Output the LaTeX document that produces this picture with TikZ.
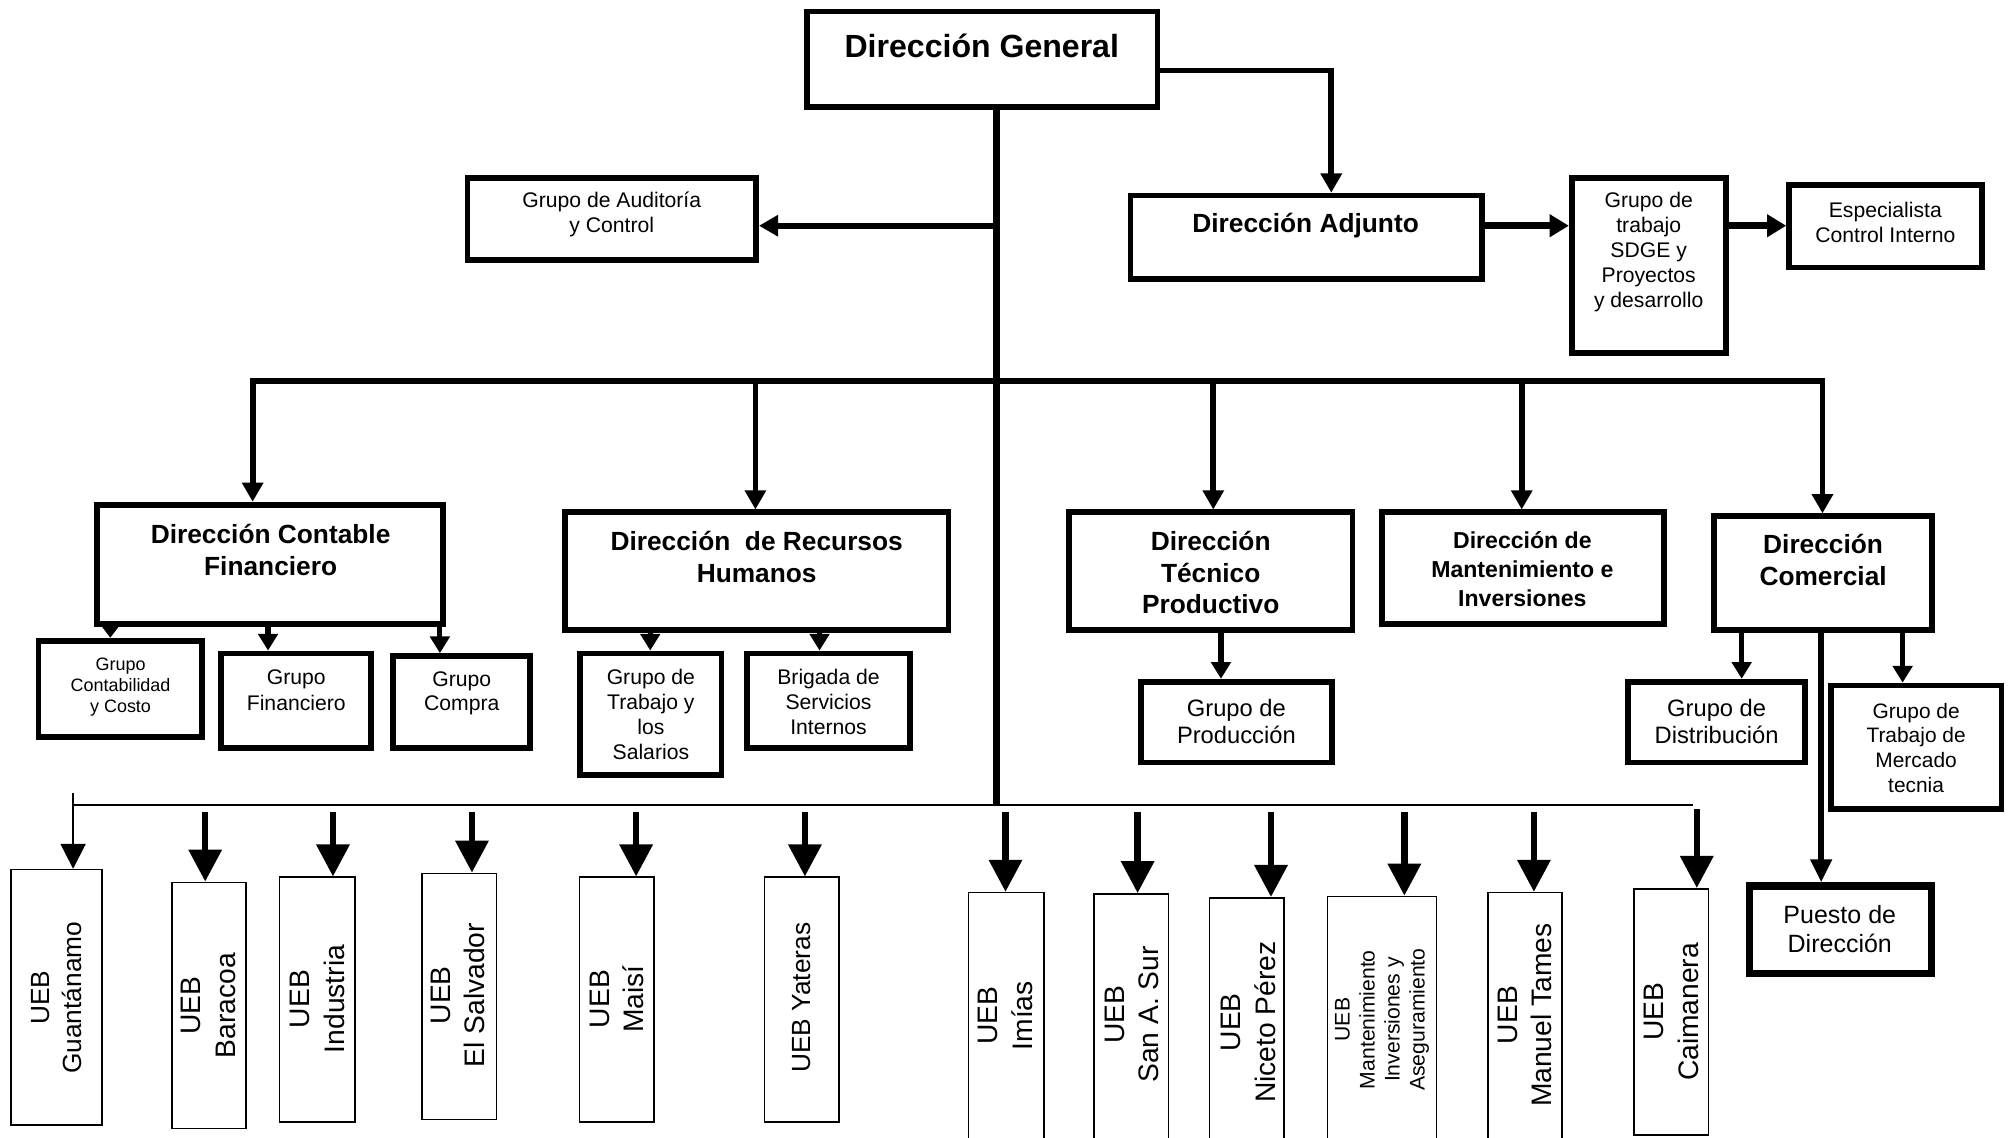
\documentclass[tikz,border=0pt]{standalone}
\usepackage{fontspec}
\setmainfont{Liberation Sans}
\usetikzlibrary{arrows.meta,fit}
\begin{document}
\begin{tikzpicture}[x=1pt,y=-1pt,
  box/.style={draw, line width=4.5pt, inner sep=0pt},
  ueb/.style={draw, line width=1.2pt, inner sep=0pt},
  bt/.style={align=center, inner sep=0pt, font=\bfseries\fontsize{20.5}{25}\selectfont},
  nt/.style={align=center, inner sep=0pt, font=\fontsize{16.5}{19.5}\selectfont},
  vt/.style={align=center, inner sep=0pt, rotate=90, font=\fontsize{22}{27}\selectfont},
  ln/.style={line width=5pt},
  arrM/.style={line width=4.5pt, -{Triangle[length=15pt,width=16pt]}},
  arrH/.style={line width=5.5pt, -{Triangle[length=15pt,width=17pt]}},
  arrS/.style={line width=4pt, -{Triangle[length=13pt,width=15pt]}},
  arrB/.style={line width=5pt, -{Triangle[length=25pt,width=25pt]}, shorten <=5pt},
  arrT/.style={line width=1.6pt, -{Triangle[length=19.5pt,width=19.5pt]}}
]
\useasboundingbox (0,0) rectangle (1568,887);
\clip (0,0) rectangle (1568,887);

% ---------- boxes ----------
\node[box, fit={(629,9) (902.5,83.5)}] (dg) {};
\node[box, fit={(364.5,139) (589.5,202.5)}] (aud) {};
\node[box, fit={(881.5,152.5) (1155.5,217.5)}] (adj) {};
\node[box, fit={(1225.5,139) (1345.5,275.5)}] (gt) {};
\node[box, fit={(1395,144) (1545.5,208.5)}] (esp) {};
\node[box, fit={(75.5,393.5) (345.5,486.5)}] (dcf) {};
\node[box, fit={(440.5,399.5) (739.5,491.5)}] (drh) {};
\node[box, fit={(833.5,399.5) (1054.5,491.5)}] (dtp) {};
\node[box, fit={(1077.5,399.5) (1297.5,486.5)}] (dmi) {};
\node[box, fit={(1336.5,402.5) (1506.5,491.5)}] (dc) {};
\node[box, fit={(30,499.5) (157.5,574.5)}] (gcc) {};
\node[box, fit={(172.5,509.5) (289.5,583.5)}] (gf) {};
\node[box, fit={(306.5,511.5) (413.5,583.5)}] (gc) {};
\node[box, fit={(452.5,509.5) (562.5,604.5)}] (gts) {};
\node[box, fit={(582.5,509.5) (709.5,583.5)}] (bsi) {};
\node[box, fit={(889.5,531.5) (1038.5,594.5)}] (gp) {};
\node[box, fit={(1269.5,531.5) (1407.5,594.5)}] (gd) {};
\node[box, fit={(1427.5,534.5) (1560.5,630.5)}] (gm) {};
\node[box, line width=6pt, fit={(1364,691) (1506,759)}] (pd) {};

% ---------- texts ----------
\node[bt, font=\bfseries\fontsize{25}{30}\selectfont] (dgt) at (765.5,36) {Dirección General};
\node[nt] (audt) at (477,167.5) {Grupo de Auditoría\\y Control};
\node[bt] (adjt) at (1018,175.5) {Dirección Adjunto};
\node[nt, font=\fontsize{16.5}{19.3}\selectfont] (gtt) at (1285.5,196.5) {Grupo de\\trabajo\\SDGE y\\Proyectos\\y desarrollo};
\node[nt, font=\fontsize{16.5}{19}\selectfont] (espt) at (1470,173.5) {Especialista\\Control Interno};
\node[bt] (dcft) at (211,428.5) {Dirección Contable\\Financiero};
\node[bt] (drht) at (590,434.5) {Dirección\ \ de Recursos\\Humanos};
\node[bt, font=\bfseries\fontsize{20.5}{24.5}\selectfont] (dtpt) at (944,446.5) {Dirección\\Técnico\\Productivo};
\node[bt, font=\bfseries\fontsize{18}{22.5}\selectfont] (dmit) at (1187,443.5) {Dirección de\\Mantenimiento e\\Inversiones};
\node[bt] (dct) at (1421.5,436.5) {Dirección\\Comercial};
\node[nt, font=\fontsize{14}{16.5}\selectfont] (gcct) at (94,535.5) {Grupo\\Contabilidad\\y Costo};
\node[nt, font=\fontsize{16.5}{20}\selectfont] (gft) at (231,538) {Grupo\\Financiero};
\node[nt, font=\fontsize{16.5}{19}\selectfont] (gct) at (360,540.5) {Grupo\\Compra};
\node[nt, font=\fontsize{16.5}{19.3}\selectfont] (gtst) at (507.5,557) {Grupo de\\Trabajo y\\los\\Salarios};
\node[nt] (bsit) at (646,547.5) {Brigada de\\Servicios\\Internos};
\node[nt, font=\fontsize{18.5}{21}\selectfont] (gpt) at (964,562.5) {Grupo de\\Producción};
\node[nt, font=\fontsize{18.5}{21}\selectfont] (gdt) at (1338.5,562.5) {Grupo de\\Distribución};
\node[nt, font=\fontsize{16.3}{19.3}\selectfont] (gmt) at (1494,583) {Grupo de\\Trabajo de\\Mercado\\tecnia};
\node[nt, font=\fontsize{19.5}{23}\selectfont] (pdt) at (1434.5,724.5) {Puesto de\\Dirección};

% ---------- UEB boxes ----------
\node[ueb, fit={(8.5,678) (79.5,877)}] (gua) {};
\node[ueb, fit={(134,688) (192,880)}] (bar) {};
\node[ueb, fit={(218,684) (277,875)}] (ind) {};
\node[ueb, fit={(329,681) (387,873)}] (sal) {};
\node[ueb, fit={(452,684) (510,875)}] (mai) {};
\node[ueb, fit={(596,684) (654,875)}] (yat) {};
\node[ueb, fit={(755,696) (814,892)}] (imi) {};
\node[ueb, fit={(853,697) (911,892)}] (san) {};
\node[ueb, fit={(943,700) (1001,893)}] (nic) {};
\node[ueb, fit={(1035,699) (1120,892)}] (man) {};
\node[ueb, fit={(1160,696) (1218,892)}] (tam) {};
\node[ueb, fit={(1274,693) (1332,885)}] (cai) {};

\node[vt, font=\fontsize{20.5}{25}\selectfont] (guat) at (44,778) {UEB\\Guantánamo};
\node[vt] (bart) at (162.5,784) {UEB\\Baracoa};
\node[vt] (indt) at (247.5,779) {UEB\\Industria};
\node[vt] (salt) at (357,776) {UEB\\El Salvador};
\node[vt] (mait) at (481,779) {UEB\\Maisí};
\node[vt, font=\fontsize{20.5}{25}\selectfont] (yatt) at (625,778) {UEB Yateras};
\node[vt] (imit) at (784,792) {UEB\\Imías};
\node[vt] (sant) at (882.5,791) {UEB\\San A. Sur};
\node[vt] (nict) at (973.5,797) {UEB\\Niceto Pérez};
\node[vt, font=\fontsize{16.5}{19.5}\selectfont] (mant) at (1077.5,795) {UEB\\Mantenimiento\\Inversiones y\\Aseguramiento};
\node[vt] (tamt) at (1189,791.5) {UEB\\Manuel Tames};
\node[vt] (cait) at (1303,789) {UEB\\Caimanera};

% ---------- coordinates ----------
\coordinate (T) at (777,0);
\coordinate (bus) at (0,628);
\coordinate (barL) at (197,297);
\coordinate (barR) at (1421,297);
\coordinate (barM) at (777,297);
\coordinate (guaTop) at (57,618);

% ---------- connectors ----------
\draw[ln] (dg.south -| T) -- (bus -| T);
\draw[arrM] (dg.east |- 0,55) -| (1038,0 |- adj.north);
\draw[arrM] (T |- 0,176) -- (aud.east |- 0,176);
\draw[arrH] (adj.east |- 0,176) -- (gt.west |- 0,176);
\draw[arrH] (gt.east |- 0,176) -- (esp.west |- 0,176);

\draw[arrM] (barM) -- (barL) -- (barL |- dcf.north);
\draw[arrM] (barM) -- (barR) -- (barR |- dc.north);
\draw[arrM] (589,0 |- barM) -- (589,0 |- drh.north);
\draw[arrM] (946,0 |- barM) -- (946,0 |- dtp.north);
\draw[arrM] (1186.5,0 |- barM) -- (1186.5,0 |- dmi.north);

\draw[arrS, -{Triangle[length=9pt,width=13pt]}] (86,0 |- dcf.south) -- (86,0 |- gcc.north);
\draw[arrS] (209,0 |- dcf.south) -- (209,0 |- gf.north);
\draw[arrS] (343,0 |- dcf.south) -- (343,0 |- gc.north);
\draw[arrS] (507,0 |- drh.south) -- (507,0 |- gts.north);
\draw[arrS] (639,0 |- drh.south) -- (639,0 |- bsi.north);
\draw[arrS] (952,0 |- dtp.south) -- (952,0 |- gp.north);
\draw[arrS] (1358,0 |- dc.south) -- (1358,0 |- gd.north);
\draw[arrS] (1483.5,0 |- dc.south) -- (1483.5,0 |- gm.north);
\draw[line width=4.5pt, -{Triangle[length=18pt,width=16pt]}] (1420,0 |- dc.south) -- (1420,0 |- pd.north);

\draw[line width=1.6pt] (57,0 |- bus) -- (1320,0 |- bus);
\draw[arrT] (guaTop) -- (57,0 |- gua.north);
\foreach \x/\n in {160/bar, 259.6/ind, 368/sal, 496/mai, 627.6/yat, 784/imi, 887/san, 991/nic, 1095/man, 1196/tam}
  \draw[arrB] (\x,0 |- bus) -- (\x,0 |- \n.north);
\draw[arrB, shorten <=3pt] (1323,0 |- bus) -- (1323,0 |- cai.north);
\end{tikzpicture}
\end{document}
